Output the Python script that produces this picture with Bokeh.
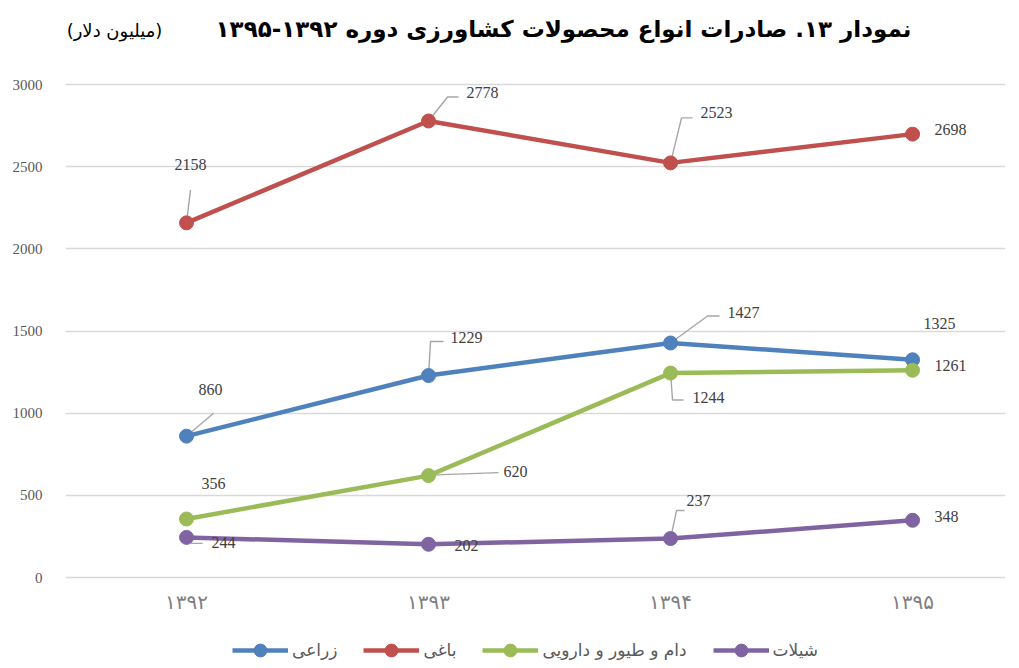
from bokeh.plotting import figure
from bokeh.models import Range1d, Label, Legend, LegendItem, FixedTicker, ColumnDataSource
from bokeh.embed import file_html
from bokeh.resources import INLINE
from bokeh.core.properties import value

# ---------------- data ----------------
years = ["۱۳۹۲", "۱۳۹۳", "۱۳۹۴", "۱۳۹۵"]
series_names = ["زراعی", "باغی", "دام و طیور و دارویی", "شیلات"]
zarai = [860, 1229, 1427, 1325]
baghi = [2158, 2778, 2523, 2698]
dam = [356, 620, 1244, 1261]
shilat = [244, 202, 237, 348]
y_ticks = [0, 500, 1000, 1500, 2000, 2500, 3000]
title_text = "نمودار ۱۳. صادرات انواع محصولات کشاورزی دوره ۱۳۹۲-۱۳۹۵"
unit_text = "(میلیون دلار)"

# ---------------- styles ----------------
colors = ["#4F81BD", "#C0504D", "#9BBB59", "#8064A2"]
# label offsets in screen px (dx, dy; dy positive = down)
label_offsets = [
    [(24, -47), (38, -38), (73, -30), (27, -36)],
    [(4, -58), (54, -28), (46, -50), (38, -5)],
    [(27, -35), (87, -4), (38, 24), (38, -5)],
    [(37, 5), (38, 1), (28, -38), (34, -4)],
]
# leader line vertices (screen px offsets from the point)
leader_offsets = [
    [[(27, -23)], [(2, -34), (15, -34)], [(37, -27), (49, -27)], None],
    [[(4, -33)], [(19, -24), (30, -24)], [(11, -45), (22, -45)], None],
    [None, [(14, -1), (70, -3)], [(2, 27), (13, 27)], None],
    [[(5, 6), (16, 6)], None, [(6, -28), (14, -28)], None],
]

W, H = 1015, 666
LEFT, TOP_GRID, BOTTOM_GRID, RIGHT = 65, 84, 577, 1005
FW = RIGHT - LEFT
X0, X1 = -0.5, 3.384
px_x = FW / (X1 - X0)
px_y = (BOTTOM_GRID - TOP_GRID) / 3000.0
Y1 = 3000 + TOP_GRID / px_y
Y0 = -(H - BOTTOM_GRID) / px_y

p = figure(width=W, height=H, x_range=Range1d(X0, X1), y_range=Range1d(Y0, Y1),
           min_border_left=LEFT, min_border_right=W - RIGHT, min_border_top=0, min_border_bottom=0,
           output_backend="svg", toolbar_location=None, tools="")
p.outline_line_color = None
p.xgrid.grid_line_color = None
p.ygrid.grid_line_color = "#D9D9D9"
p.ygrid.grid_line_width = 1.3

for ax in (p.xaxis[0], p.yaxis[0]):
    ax.axis_line_color = None
    ax.major_tick_line_color = None
    ax.minor_tick_line_color = None

p.yaxis.ticker = FixedTicker(ticks=y_ticks)
p.yaxis.major_label_text_font = "Liberation Serif"
p.yaxis.major_label_text_font_size = "15px"
p.yaxis.major_label_text_color = "#595959"
p.yaxis.major_label_text_baseline = "bottom"
p.yaxis.major_label_standoff = 17

xs = list(range(len(years)))
p.xaxis.ticker = FixedTicker(ticks=xs)
p.xaxis.fixed_location = 0
p.xaxis.major_label_overrides = {i: y for i, y in enumerate(years)}
p.xaxis.major_label_text_font = "DejaVu Sans"
p.xaxis.major_label_text_font_size = "20px"
p.xaxis.major_label_text_color = "#7F7F7F"
p.xaxis.major_label_standoff = 6

all_series = [zarai, baghi, dam, shilat]
items = []
lx, ly = [], []
for s, vals in enumerate(all_series):
    for i, v in enumerate(vals):
        lo = leader_offsets[s][i]
        if lo:
            lx.append([xs[i]] + [xs[i] + d[0] / px_x for d in lo])
            ly.append([v] + [v - d[1] / px_y for d in lo])

p.multi_line(lx, ly, line_color="#A6A6A6", line_width=1.4)

for s, vals in enumerate(all_series):
    src = ColumnDataSource(dict(x=xs, y=vals))
    r1 = p.line("x", "y", source=src, line_color=colors[s], line_width=4.5)
    r2 = p.scatter("x", "y", source=src, size=14, fill_color=colors[s], line_color=colors[s])
    items.append(LegendItem(label=series_names[s], renderers=[r1, r2]))

for s, vals in enumerate(all_series):
    src = ColumnDataSource(dict(x=xs, y=vals, t=[str(v) for v in vals],
                                dx=[o[0] for o in label_offsets[s]],
                                dy=[o[1] for o in label_offsets[s]]))
    p.text("x", "y", text="t", x_offset="dx", y_offset="dy", source=src,
           text_align="center", text_baseline="middle",
           text_font=value("Liberation Serif"), text_font_size="16px", text_color="#404040")

legend = Legend(items=items, orientation="horizontal", location=(232 - LEFT, 0),
                glyph_width=56, glyph_height=32, label_standoff=4, spacing=26,
                padding=0, margin=0, border_line_color=None, background_fill_alpha=0,
                label_text_font="DejaVu Sans", label_text_font_size="17px",
                label_text_color="#595959")
p.add_layout(legend)

p.add_layout(Label(x=563 - LEFT, y=H - 28, x_units="screen", y_units="screen", text=title_text,
                   text_align="center", text_baseline="middle", text_font="DejaVu Sans",
                   text_font_style="bold", text_font_size="23px", text_color="#000000"))
p.add_layout(Label(x=114 - LEFT, y=H - 30, x_units="screen", y_units="screen", text=unit_text,
                   text_align="center", text_baseline="middle", text_font="DejaVu Sans",
                   text_font_size="18px", text_color="#000000"))

open("out.html", "w").write(file_html(p, INLINE))
